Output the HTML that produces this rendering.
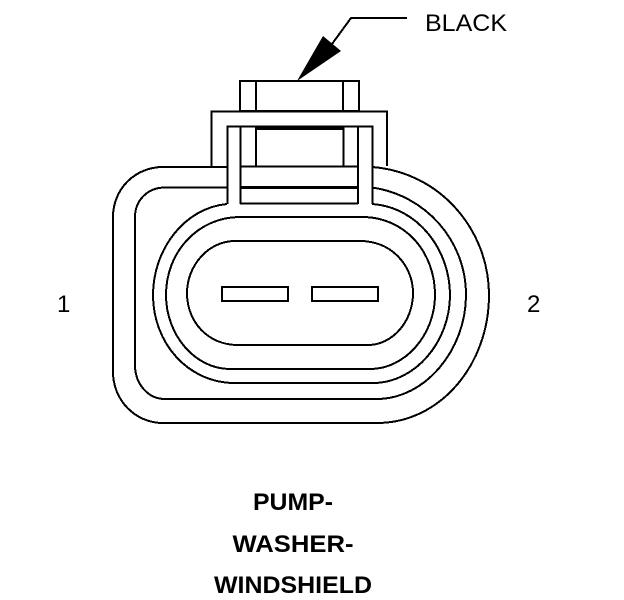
<!DOCTYPE html>
<html><head><meta charset="utf-8"><style>
html,body{margin:0;padding:0;background:#fff}
svg{display:block}
text{font-family:"Liberation Sans",sans-serif;fill:#000}
.b{font-weight:bold;font-size:24px;text-anchor:middle}
</style></head><body>
<svg width="624" height="600" viewBox="0 0 624 600" xmlns="http://www.w3.org/2000/svg">
<rect width="624" height="600" fill="#fff"/>
<g fill="none" stroke="#000" stroke-width="2" shape-rendering="crispEdges">
<!-- outer shells -->
<path d="M227 167H163C135 167 113 189 113 217V372C113 400 135 423 163 423H377C440 423 489 365 489 295C489 230 440 172 372 167"/>
<path d="M227 187.500H165C148 187.500 135 200 135 217V365C135 384 148 399 165 399H377C425 399 466 350 466 295C466 240 425 195 372 187.500"/>
<path d="M227 204C184 208 153 250 153 295C153 342 187 383 235 383H373C415 383 450 342 450 295C450 250 418 207 372 204"/>
<path d="M240 217C198 217 166 252 166 295C166 335 195 369 230 369H370C405 369 435 335 435 295C435 252 405 217 362 217Z"/>
<path d="M235 241C208 241 187 266 187 293C187 322 208 345 238 345H368C392 345 413 322 413 293C413 266 392 241 360 241Z"/>
<!-- slots -->
<rect x="222" y="287" width="66" height="14"/>
<rect x="312" y="287" width="66" height="14"/>
<!-- clip -->
<rect x="240" y="81" width="119" height="30"/>
<path d="M256 81V111M343 81V111"/>
<path d="M211.500 166V111.500H387V166"/>
<path d="M227.500 204V126.500H372.500V204"/>
<path d="M240.500 126V204M358 126V204"/>
<path d="M256 126V166M343.500 126V166"/>
<path d="M240 166.500H358M240 203.500H358"/>
<path d="M240 187.500H358" stroke-width="3"/>
<path d="M256 128H343" stroke-width="4"/>
<!-- leader -->
<path d="M332 44L351 18H407"/>
</g>
<polygon points="297,81 323,36 341,51" fill="#000"/>
<text x="425" y="31" font-size="24" textLength="82" lengthAdjust="spacingAndGlyphs">BLACK</text>
<text x="57" y="312" font-size="24">1</text>
<text x="527" y="312" font-size="24">2</text>
<text class="b" x="293" y="510" textLength="80" lengthAdjust="spacingAndGlyphs">PUMP-</text>
<text class="b" x="293" y="552" textLength="121" lengthAdjust="spacingAndGlyphs">WASHER-</text>
<text class="b" x="293" y="593" textLength="158" lengthAdjust="spacingAndGlyphs">WINDSHIELD</text>
</svg>
</body></html>
